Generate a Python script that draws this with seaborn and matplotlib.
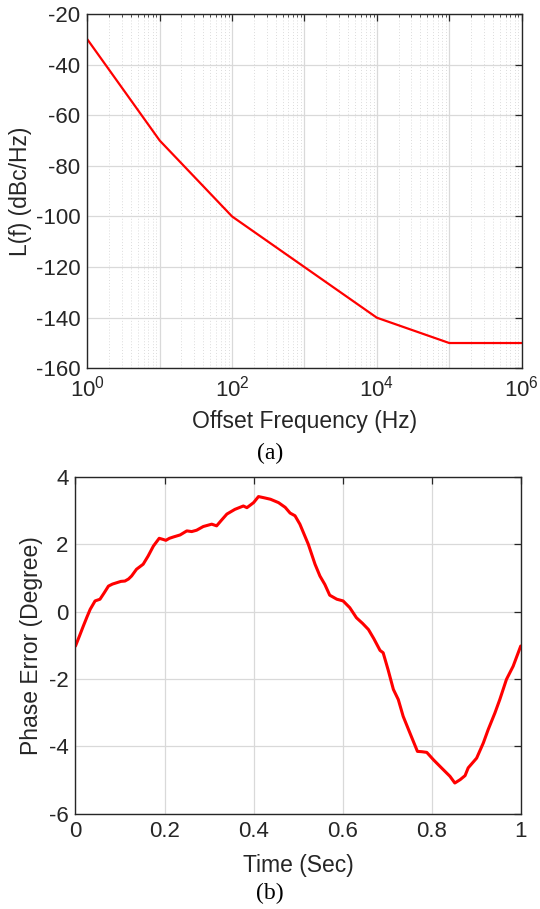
import numpy as np
import pandas as pd
import matplotlib
matplotlib.use("Agg")
import matplotlib.pyplot as plt
import seaborn as sns
from matplotlib.ticker import LogLocator, NullFormatter, MultipleLocator

# ---- data: (a) phase noise profile ----
freq_hz = [1, 10, 100, 1e4, 1e5, 1e6]
phase_noise_dbc = [-30, -70, -100, -140, -150, -150]

# ---- data: (b) phase error vs time ----
time_s = [0.000, 0.009, 0.0175, 0.026, 0.033, 0.044, 0.055, 0.064, 0.074, 0.083,
          0.0925, 0.102, 0.111, 0.119, 0.126, 0.137, 0.145, 0.152, 0.163, 0.175,
          0.188, 0.196, 0.203, 0.211, 0.220, 0.235, 0.250, 0.261, 0.272, 0.287,
          0.306, 0.317, 0.328, 0.340, 0.358, 0.377, 0.385, 0.400, 0.411, 0.425,
          0.438, 0.456, 0.471, 0.482, 0.493, 0.504, 0.523, 0.538, 0.549, 0.560,
          0.571, 0.587, 0.601, 0.616, 0.631, 0.645, 0.658, 0.670, 0.684, 0.691,
          0.702, 0.714, 0.725, 0.736, 0.751, 0.768, 0.778, 0.789, 0.804, 0.822,
          0.841, 0.852, 0.864, 0.875, 0.882, 0.901, 0.916, 0.927, 0.942, 0.953,
          0.968, 0.983, 1.000]
phase_err_deg = [-1.02, -0.72, -0.43, -0.15, 0.07, 0.32, 0.37, 0.55, 0.76, 0.82,
                 0.86, 0.90, 0.91, 0.97, 1.06, 1.26, 1.34, 1.41, 1.65, 1.95,
                 2.18, 2.15, 2.12, 2.18, 2.22, 2.28, 2.40, 2.38, 2.42, 2.53,
                 2.60, 2.55, 2.72, 2.90, 3.04, 3.14, 3.09, 3.24, 3.42, 3.38,
                 3.34, 3.24, 3.10, 2.93, 2.85, 2.60, 2.00, 1.41, 1.06, 0.81,
                 0.49, 0.37, 0.32, 0.12, -0.18, -0.35, -0.53, -0.80, -1.15, -1.22,
                 -1.72, -2.31, -2.61, -3.11, -3.60, -4.15, -4.16, -4.18, -4.40, -4.64,
                 -4.89, -5.09, -4.99, -4.87, -4.64, -4.35, -3.90, -3.50, -3.01, -2.61,
                 -2.01, -1.62, -1.02]

df_a = pd.DataFrame({"f": freq_hz, "L": phase_noise_dbc})
df_b = pd.DataFrame({"t": time_s, "e": phase_err_deg})

sns.set_theme(style="white")
plt.rcParams["font.family"] = ["Liberation Sans", "DejaVu Sans"]
plt.rcParams["mathtext.default"] = "regular"
plt.rcParams["axes.unicode_minus"] = False

dark = "#262626"
grid_c = "#d9d9d9"

fig = plt.figure(figsize=(5.4, 9.09), dpi=100)
ax1 = fig.add_axes([0.1617, 0.5948, 0.966 - 0.1617, 0.9846 - 0.5948])
ax2 = fig.add_axes([0.1398, 0.1049, 0.9643 - 0.1398, 0.4752 - 0.1049])

# ---- (a) ----
sns.lineplot(data=df_a, x="f", y="L", ax=ax1, color="#ff0000", linewidth=1.6)
ax1.set_xscale("log")
ax1.set_xlim(1, 1e6)
ax1.set_ylim(-160, -20)
ax1.xaxis.set_major_locator(LogLocator(base=10, numticks=10))
ax1.xaxis.set_major_formatter(matplotlib.ticker.FuncFormatter(
    lambda v, p: r"$10^{%d}$" % round(np.log10(v)) if round(np.log10(v)) % 2 == 0 else ""))
ax1.xaxis.set_minor_locator(LogLocator(base=10, subs=np.arange(2, 10), numticks=20))
ax1.xaxis.set_minor_formatter(NullFormatter())
ax1.yaxis.set_major_locator(MultipleLocator(20))
ax1.grid(True, which="major", color=grid_c, linewidth=0.9)
ax1.grid(True, which="minor", axis="x", color="#dcdcdc", linestyle=(0, (1, 2)), linewidth=0.7)
ax1.set_xlabel("Offset Frequency (Hz)", fontsize=16.5, color=dark)
ax1.set_ylabel("L(f) (dBc/Hz)", fontsize=16.5, color=dark)
ax1.xaxis.set_label_coords(0.5, -0.118)
ax1.yaxis.set_label_coords(-0.127, 0.5)

# ---- (b) ----
sns.lineplot(data=df_b, x="t", y="e", ax=ax2, color="#ff0000", linewidth=2.2)
ax2.set_xlim(0, 1)
ax2.set_ylim(-6, 4)
ax2.xaxis.set_major_locator(MultipleLocator(0.2))
ax2.yaxis.set_major_locator(MultipleLocator(2))
ax2.xaxis.set_major_formatter(matplotlib.ticker.FuncFormatter(
    lambda v, p: "%g" % round(v, 1)))
ax2.grid(True, which="major", color=grid_c, linewidth=0.9)
ax2.set_xlabel("Time (Sec)", fontsize=16.5, color=dark)
ax2.set_ylabel("Phase Error (Degree)", fontsize=16.5, color=dark)
ax2.xaxis.set_label_coords(0.5, -0.12)
ax2.yaxis.set_label_coords(-0.073, 0.5)

for ax in (ax1, ax2):
    ax.set_axisbelow(True)
    for s in ax.spines.values():
        s.set_color(dark)
        s.set_linewidth(1.0)
        s.set_visible(True)
    ax.tick_params(which="both", direction="in", top=True, right=True,
                   colors=dark, labelcolor=dark, labelsize=16, pad=5)
    ax.tick_params(which="major", length=5, width=0.9)
    ax.tick_params(which="minor", length=2.5, width=0.6)

fig.text(0.5, 1 - 453 / 909, "(a)", ha="center", va="center", fontsize=17,
         family=["Liberation Serif", "DejaVu Serif"], color="black")
fig.text(0.5, 1 - 893 / 909, "(b)", ha="center", va="center", fontsize=17,
         family=["Liberation Serif", "DejaVu Serif"], color="black")

fig.savefig("out.png", dpi=100)
